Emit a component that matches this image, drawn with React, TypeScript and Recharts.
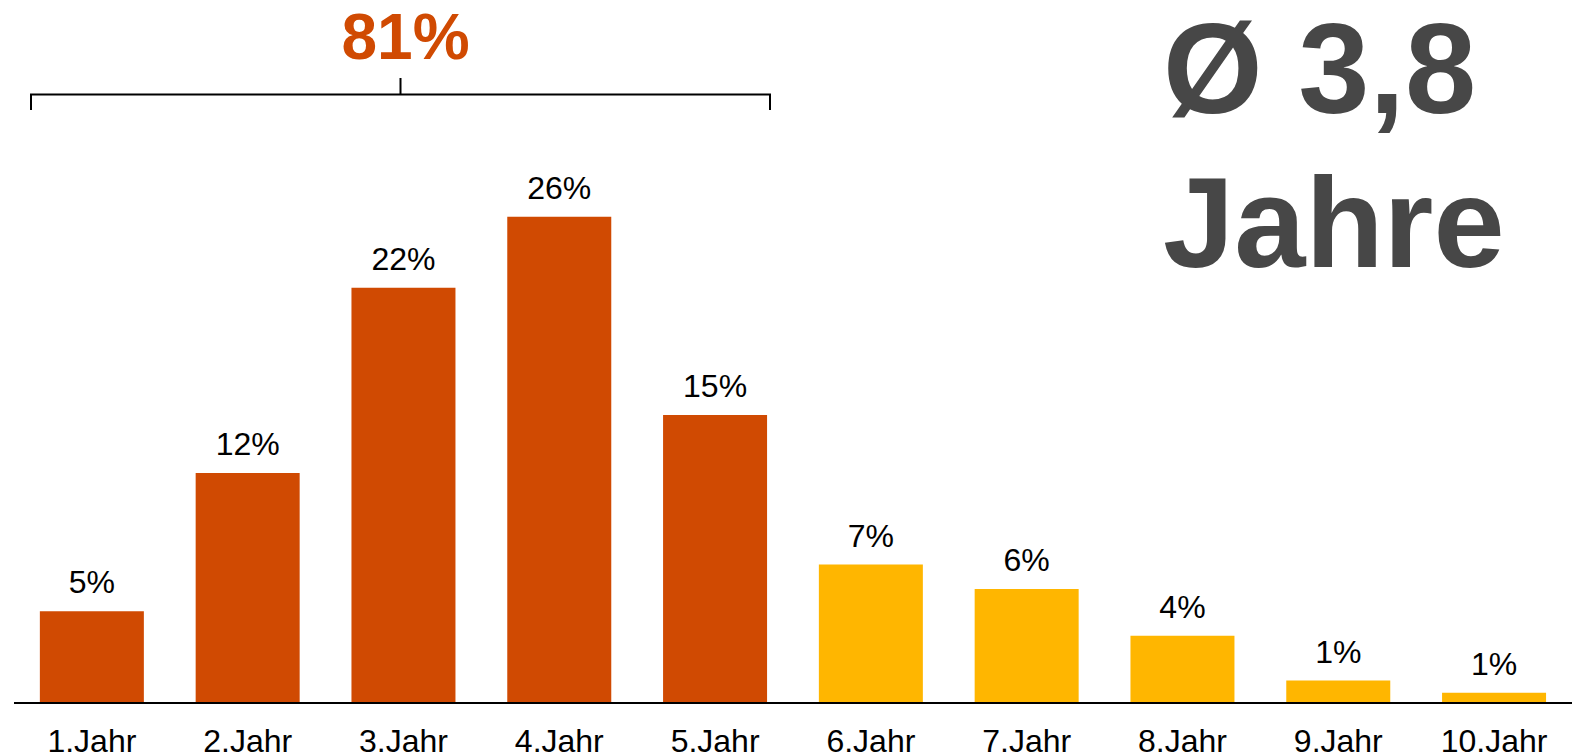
import React from 'react';
import { BarChart, Bar, XAxis, YAxis, Cell, LabelList } from 'recharts';

const categories = ['1.Jahr', '2.Jahr', '3.Jahr', '4.Jahr', '5.Jahr', '6.Jahr', '7.Jahr', '8.Jahr', '9.Jahr', '10.Jahr'];
const shares = [4.9, 12.3, 22.2, 26.0, 15.4, 7.4, 6.1, 3.6, 1.2, 0.55];
const shareLabels = ['5%', '12%', '22%', '26%', '15%', '7%', '6%', '4%', '1%', '1%'];
const highlightCount = 5;
const highlightTotal = '81%';
const averageLine1 = 'Ø 3,8';
const averageLine2 = 'Jahre';

const ORANGE = '#D04A02';
const YELLOW = '#FFB600';
const GREY = '#474747';
const FONT = '"Liberation Sans", Arial, sans-serif';

const W = 1586;
const H = 755;
const M = { top: 142, right: 14, bottom: 0, left: 14 };
const XAXIS_H = 52;

const data = categories.map((c, i) => ({ name: c, value: shares[i], label: shareLabels[i] }));

export default function App() {
  const plotLeft = M.left;
  const plotRight = W - M.right;
  const band = (plotRight - plotLeft) / categories.length;
  const bracketLeft = plotLeft + band * 0 + 17;
  const bracketRight = plotLeft + band * highlightCount - 23;
  const bracketMid = (bracketLeft + bracketRight) / 2;
  return (
    <div style={{ position: 'fixed', left: 0, top: 0, width: W, height: H, background: '#fff', fontFamily: FONT }}>
      <BarChart width={W} height={H} data={data} margin={M} barCategoryGap="16.6%">
        <XAxis
          dataKey="name"
          height={XAXIS_H}
          axisLine={{ stroke: '#000', strokeWidth: 2 }}
          tickLine={false}
          tickSize={0}
          tickMargin={26}
          interval={0}
          tick={{ fill: '#000', fontSize: 32, fontFamily: FONT }}
        />
        <YAxis hide domain={[0, 30]} />
        <Bar dataKey="value" isAnimationActive={false}>
          {data.map((d, i) => (
            <Cell key={d.name} fill={i < highlightCount ? ORANGE : YELLOW} />
          ))}
          <LabelList dataKey="label" position="top" offset={18} fill="#000" fontSize={32} fontFamily={FONT} />
        </Bar>
      </BarChart>
      <svg width={W} height={H} style={{ position: 'absolute', left: 0, top: 0, pointerEvents: 'none' }}>
        <text x={bracketMid + 5} y={59} textAnchor="middle" fontSize={64} fontWeight="bold" fill={ORANGE} fontFamily={FONT}>
          {highlightTotal}
        </text>
        <path
          d={`M${bracketLeft},110 V94.5 H${bracketRight} V110 M${bracketMid},94.5 V78`}
          stroke="#000"
          strokeWidth={2}
          fill="none"
        />
        <text x={1163} y={113} fontSize={128} fontWeight="bold" fill={GREY} fontFamily={FONT}>
          {averageLine1}
        </text>
        <text x={1163} y={267} fontSize={128} fontWeight="bold" fill={GREY} fontFamily={FONT}>
          {averageLine2}
        </text>
      </svg>
    </div>
  );
}
